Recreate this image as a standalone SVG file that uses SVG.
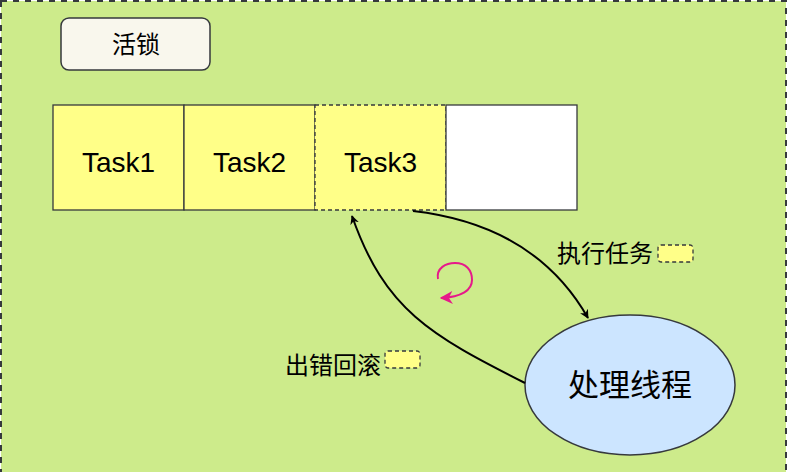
<svg xmlns="http://www.w3.org/2000/svg" width="787" height="472" viewBox="0 0 787 472">
<defs>
<style>
.lbl{font-family:"Noto Sans CJK SC","Liberation Sans",sans-serif;fill:#000}
.task{font-family:"Liberation Sans","DejaVu Sans",sans-serif;font-size:28px;fill:#000;text-anchor:middle}
.cell{fill:#ffff88;stroke:#36393d;stroke-width:1.3}
.conn{fill:none;stroke:#000;stroke-width:2}
.chip{fill:#ffff88;stroke:#36393d;stroke-width:1.3;stroke-dasharray:4 3}
</style>
<marker id="ah" viewBox="0 0 10 10" refX="9" refY="5" markerWidth="9" markerHeight="9" orient="auto" markerUnits="userSpaceOnUse">
<path d="M0,0 L10,5 L0,10 L3,5 Z" fill="#000"/>
</marker>
<marker id="ahp" viewBox="0 0 10 10" refX="9" refY="5" markerWidth="13" markerHeight="13" orient="auto" markerUnits="userSpaceOnUse">
<path d="M0,0 L10,5 L0,10 L3,5 Z" fill="#e6198a"/>
</marker>
</defs>
<rect id="background" x="1" y="1" width="785" height="490" fill="#cdeb8b" stroke="#36393d" stroke-width="2" stroke-dasharray="6 6"/>
<g id="title">
<rect x="61" y="18" width="149" height="52" rx="8" fill="#f9f7ed" stroke="#36393d" stroke-width="1.5"/>
<text class="lbl" x="136" y="53" font-size="24" text-anchor="middle">活锁</text>
</g>
<g id="task1">
<rect class="cell" x="53" y="105" width="131" height="105"/>
<text class="task" x="118.5" y="172">Task1</text>
</g>
<g id="task2">
<rect class="cell" x="184" y="105" width="131" height="105"/>
<text class="task" x="249.5" y="172">Task2</text>
</g>
<g id="task3">
<rect class="cell" x="315" y="105" width="131" height="105" stroke-dasharray="4 3"/>
<text class="task" x="380.5" y="172">Task3</text>
</g>
<g id="empty">
<rect x="446" y="105" width="131" height="105" fill="#ffffff" stroke="#36393d" stroke-width="1.3"/>
</g>
<g id="worker">
<ellipse cx="630" cy="385" rx="105" ry="70" fill="#cce5ff" stroke="#36393d" stroke-width="1.5"/>
<text class="lbl" x="630" y="396" font-size="31" text-anchor="middle">处理线程</text>
</g>
<g id="connectors">
<path class="conn" d="M413,211 Q535,225 588,318" marker-end="url(#ah)"/>
<path class="conn" d="M525,383 C430,335 385,310 352,216" marker-end="url(#ah)"/>
<path d="M438,279 C436,268 446,263 455,263 C466,263 472,270 472,280 C472,290 462,297 441,298" fill="none" stroke="#e6198a" stroke-width="2" marker-end="url(#ahp)"/>
</g>
<g id="label-exec">
<text class="lbl" x="557" y="262" font-size="24">执行任务</text>
<rect class="chip" x="658" y="245" width="35" height="17" rx="3"/>
</g>
<g id="label-rollback">
<text class="lbl" x="285" y="374" font-size="24">出错回滚</text>
<rect class="chip" x="385" y="351" width="35" height="17" rx="3"/>
</g>
</svg>
